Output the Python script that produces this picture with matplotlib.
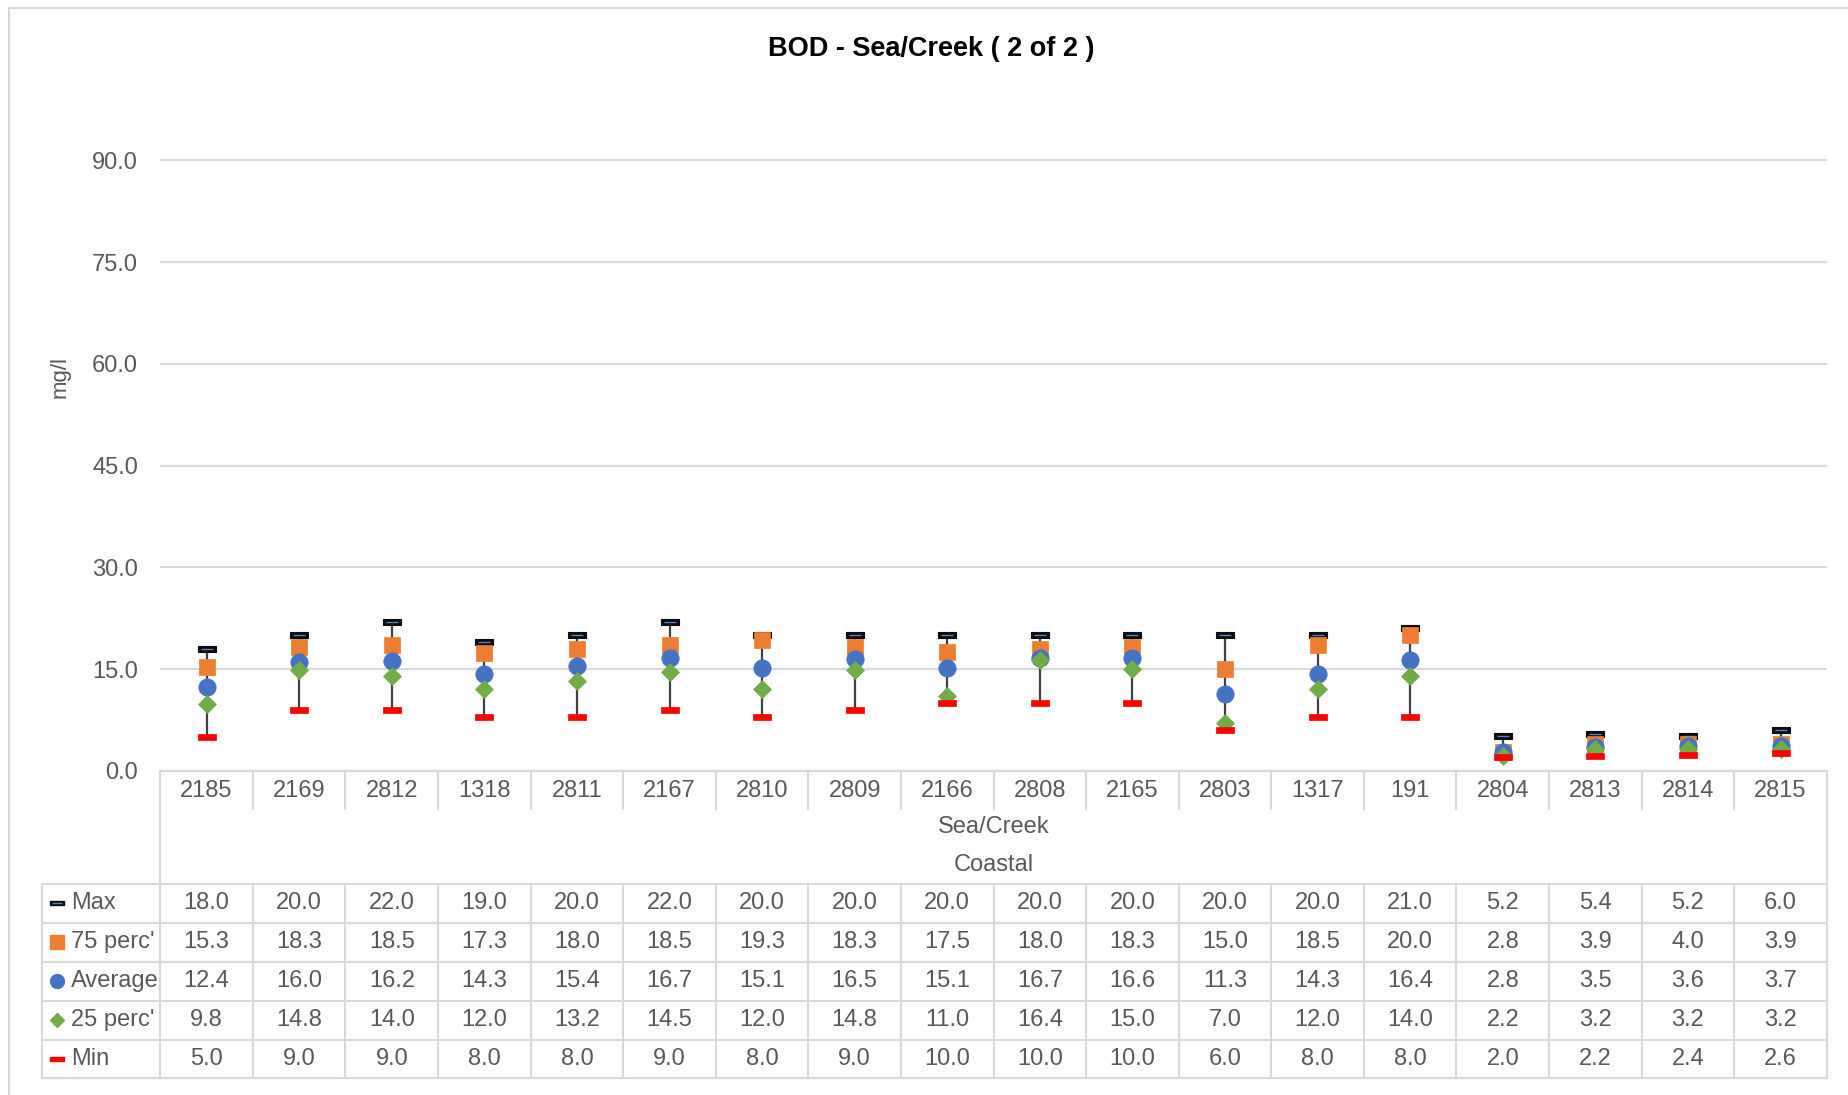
import matplotlib
matplotlib.use("Agg")
import matplotlib.pyplot as plt
from matplotlib.path import Path
from matplotlib.lines import Line2D

plt.rcParams['font.family'] = ['Liberation Sans Narrow', 'Liberation Sans', 'DejaVu Sans']

# data
stations = ['2185', '2169', '2812', '1318', '2811', '2167', '2810', '2809', '2166',
            '2808', '2165', '2803', '1317', '191', '2804', '2813', '2814', '2815']
v_max = [18.0, 20.0, 22.0, 19.0, 20.0, 22.0, 20.0, 20.0, 20.0,
         20.0, 20.0, 20.0, 20.0, 21.0, 5.2, 5.4, 5.2, 6.0]
v_p75 = [15.3, 18.3, 18.5, 17.3, 18.0, 18.5, 19.3, 18.3, 17.5,
         18.0, 18.3, 15.0, 18.5, 20.0, 2.8, 3.9, 4.0, 3.9]
v_avg = [12.4, 16.0, 16.2, 14.3, 15.4, 16.7, 15.1, 16.5, 15.1,
         16.7, 16.6, 11.3, 14.3, 16.4, 2.8, 3.5, 3.6, 3.7]
v_p25 = [9.8, 14.8, 14.0, 12.0, 13.2, 14.5, 12.0, 14.8, 11.0,
         16.4, 15.0, 7.0, 12.0, 14.0, 2.2, 3.2, 3.2, 3.2]
v_min = [5.0, 9.0, 9.0, 8.0, 8.0, 9.0, 8.0, 9.0, 10.0,
         10.0, 10.0, 6.0, 8.0, 8.0, 2.0, 2.2, 2.4, 2.6]
group_label = 'Sea/Creek'
sub_label = 'Coastal'
y_ticks = [0, 15, 30, 45, 60, 75, 90]

W, H = 1848, 1095
GRID = '#D9D9D9'
TXT = '#595959'
C_MAX, C_P75, C_AVG, C_P25, C_MIN = '#0D0D0D', '#ED7D31', '#4472C4', '#70AD47', '#FF0000'

dash = Path([(-0.5, -0.15), (0.5, -0.15), (0.5, 0.15), (-0.5, 0.15), (-0.5, -0.15)],
            [Path.MOVETO, Path.LINETO, Path.LINETO, Path.LINETO, Path.CLOSEPOLY])

fig = plt.figure(figsize=(W / 100, H / 100), dpi=100)

# plot area in pixel terms
L, R = 160.3, 1826.8
y0_px, top_px = 770.8, 92.5
ax = fig.add_axes([L / W, (H - y0_px) / H, (R - L) / W, (y0_px - top_px) / H])
n = len(stations)
x = list(range(n))
ax.set_xlim(-0.5, n - 0.5)
ax.set_ylim(0, 100)
ax.set_yticks(y_ticks)
ax.set_yticklabels([f'{t:.1f}' for t in y_ticks], fontsize=17, color=TXT)
ax.set_xticks([])
ax.tick_params(axis='y', length=0, pad=16)
ax.grid(axis='y', color=GRID, lw=1.5)
ax.set_axisbelow(True)
for s in ['top', 'right', 'left']:
    ax.spines[s].set_visible(False)
ax.spines['bottom'].set_color(GRID)
ax.spines['bottom'].set_linewidth(1.5)
ax.set_ylabel('mg/l', fontsize=16, color=TXT)
ax.yaxis.set_label_coords((71 - L) / (R - L), (y0_px - 377) / (y0_px - top_px))

# high-low lines
ax.vlines(x, v_min, v_max, color='#404040', lw=1.6, zorder=2)
ax.plot(x, v_max, ls='none', marker=dash, ms=12.5, mfc=C_MAX, mec=C_MAX, mew=0.8, zorder=3)
ax.plot(x, v_max, ls='none', marker='_', ms=9, mec='#4F81BD', mew=1.0, zorder=3)
ax.plot(x, v_p75, ls='none', marker='s', ms=12, mfc=C_P75, mec=C_P75, mew=0.5, zorder=4)
ax.plot(x, v_avg, ls='none', marker='o', ms=12.5, mfc=C_AVG, mec=C_AVG, mew=0.5, zorder=5)
ax.plot(x, v_p25, ls='none', marker='D', ms=9.3, mfc=C_P25, mec=C_P25, mew=0.5, zorder=6)
ax.plot(x, v_min, ls='none', marker=dash, ms=12.5, mfc=C_MIN, mec=C_MIN, mew=0.5, zorder=7)

ax.set_title('BOD - Sea/Creek ( 2 of 2 )', fontsize=19.5, fontweight='bold',
             color='black', x=(931 - L) / (R - L), y=1.0, pad=26)

# data table underneath, sharing the category positions
tab_bottom = 1078.4
tab = fig.add_axes([L / W, (H - tab_bottom) / H, (R - L) / W, (tab_bottom - y0_px) / H])
tab.set_xlim(-0.5, n - 0.5)
tab.set_ylim(tab_bottom - y0_px, 0)
tab.axis('off')
cat_w = (R - L) / n


def px_x(px):
    return -0.5 + (px - L) / cat_w


x_left = px_x(42.4)
cat_h = 37.7
rows_top = 113.2
row_h = (tab_bottom - y0_px - rows_top) / 5

lk = dict(color=GRID, lw=1.5, clip_on=False)
for b in range(n + 1):
    xb = b - 0.5
    if b in (0, n):
        tab.plot([xb, xb], [0, tab_bottom - y0_px], **lk)
    else:
        tab.plot([xb, xb], [0, cat_h], **lk)
        tab.plot([xb, xb], [rows_top, tab_bottom - y0_px], **lk)
for r in range(6):
    yr = rows_top + r * row_h
    tab.plot([x_left, n - 0.5], [yr, yr], **lk)
tab.plot([x_left, x_left], [rows_top, tab_bottom - y0_px], **lk)

for i, s in enumerate(stations):
    tab.text(i, cat_h / 2 + 1, s, ha='center', va='center', fontsize=17, color=TXT)
tab.text((n - 1) / 2, 56.6, group_label, ha='center', va='center', fontsize=17, color=TXT)
tab.text((n - 1) / 2, 94.2, sub_label, ha='center', va='center', fontsize=17, color=TXT)

series = [("Max", v_max), ("75 perc'", v_p75), ("Average", v_avg),
          ("25 perc'", v_p25), ("Min", v_min)]
keys = [dict(marker=dash, ms=10, mfc=C_MAX, mec=C_MAX),
        dict(marker='s', ms=9.5, mfc=C_P75, mec=C_P75),
        dict(marker='o', ms=10, mfc=C_AVG, mec=C_AVG),
        dict(marker='D', ms=7.5, mfc=C_P25, mec=C_P25),
        dict(marker=dash, ms=10, mfc=C_MIN, mec=C_MIN)]
for r, ((name, vals), k) in enumerate(zip(series, keys)):
    yc = rows_top + (r + 0.5) * row_h
    tab.add_line(Line2D([px_x(56.6)], [yc], ls='none', clip_on=False, **k))
    if r == 0:
        tab.add_line(Line2D([px_x(56.6)], [yc], ls='none', marker='_', ms=7,
                            mec='#4F81BD', mew=1.0, clip_on=False))
    tab.text(px_x(70.7), yc, name, ha='left', va='center', fontsize=17, color=TXT, clip_on=False)
    for i, v in enumerate(vals):
        tab.text(i, yc, f'{v:.1f}', ha='center', va='center', fontsize=17, color=TXT)

# chart area border (left and top edges visible)
fig.add_artist(Line2D([9.4 / W, 9.4 / W], [0, 1 - 8.3 / H], color=GRID, lw=1.5))
fig.add_artist(Line2D([9.4 / W, 1], [1 - 8.3 / H, 1 - 8.3 / H], color=GRID, lw=1.5))

fig.savefig('out.png', dpi=100, facecolor='white')
